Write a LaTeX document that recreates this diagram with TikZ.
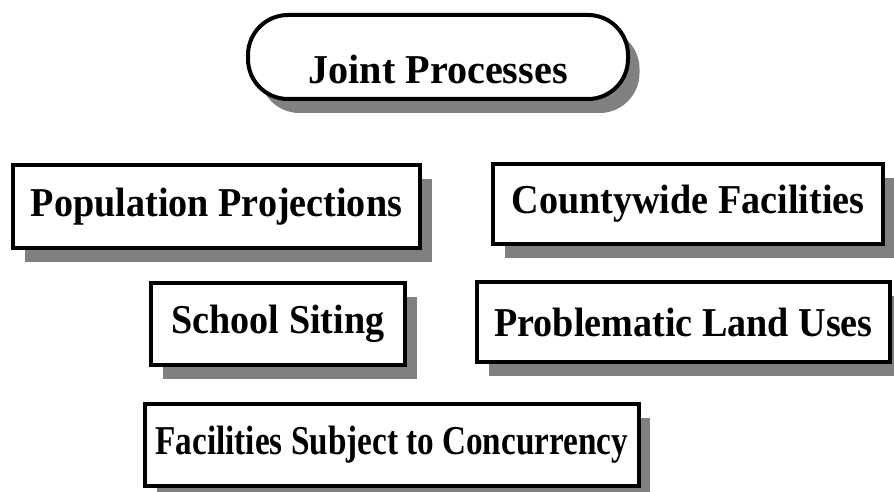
\documentclass[tikz,border=0pt]{standalone}
\usepackage{fontspec}
\setmainfont{Liberation Serif}
\usetikzlibrary{shadows}
\definecolor{shadowgray}{RGB}{128,128,128}

\begin{document}
\begin{tikzpicture}[x=1pt,y=-1pt,
	boxfont/.style={font=\fontsize{41}{48}\selectfont\bfseries\addfontfeatures{FakeStretch=#1}},
	boxfont/.default=0.93,
	procbox/.style={draw=black, line width=4pt, fill=white, inner sep=0pt, boxfont,
		drop shadow={shadow xshift=11.5pt, shadow yshift=-14pt, fill=shadowgray, opacity=1}}]
		\useasboundingbox (0,0) rectangle (894,492);

		%draw title
		\node[procbox, boxfont=0.98, rounded corners=40pt, minimum width=380pt, minimum height=84pt,
			text height=54pt, text depth=0pt] (joint) at (438,57) {Joint Processes};

		%draw processes
		\node[procbox, minimum width=407pt, minimum height=83pt] (popproj) at (216.5,206.5) {Population Projections};
		\node[procbox, minimum width=390pt, minimum height=80pt] (county) at (688,203.5) {Countywide Facilities};
		\node[procbox, minimum width=254pt, minimum height=81.5pt] (school) at (278,324) {School Siting};
		\node[procbox, minimum width=413pt, minimum height=80pt] (landuse) at (683.5,322) {Problematic Land Uses};
		\node[procbox, boxfont=0.81, minimum width=493.5pt, minimum height=81.5pt] (concur) at (391.75,445) {Facilities Subject to Concurrency};
\end{tikzpicture}
\end{document}
